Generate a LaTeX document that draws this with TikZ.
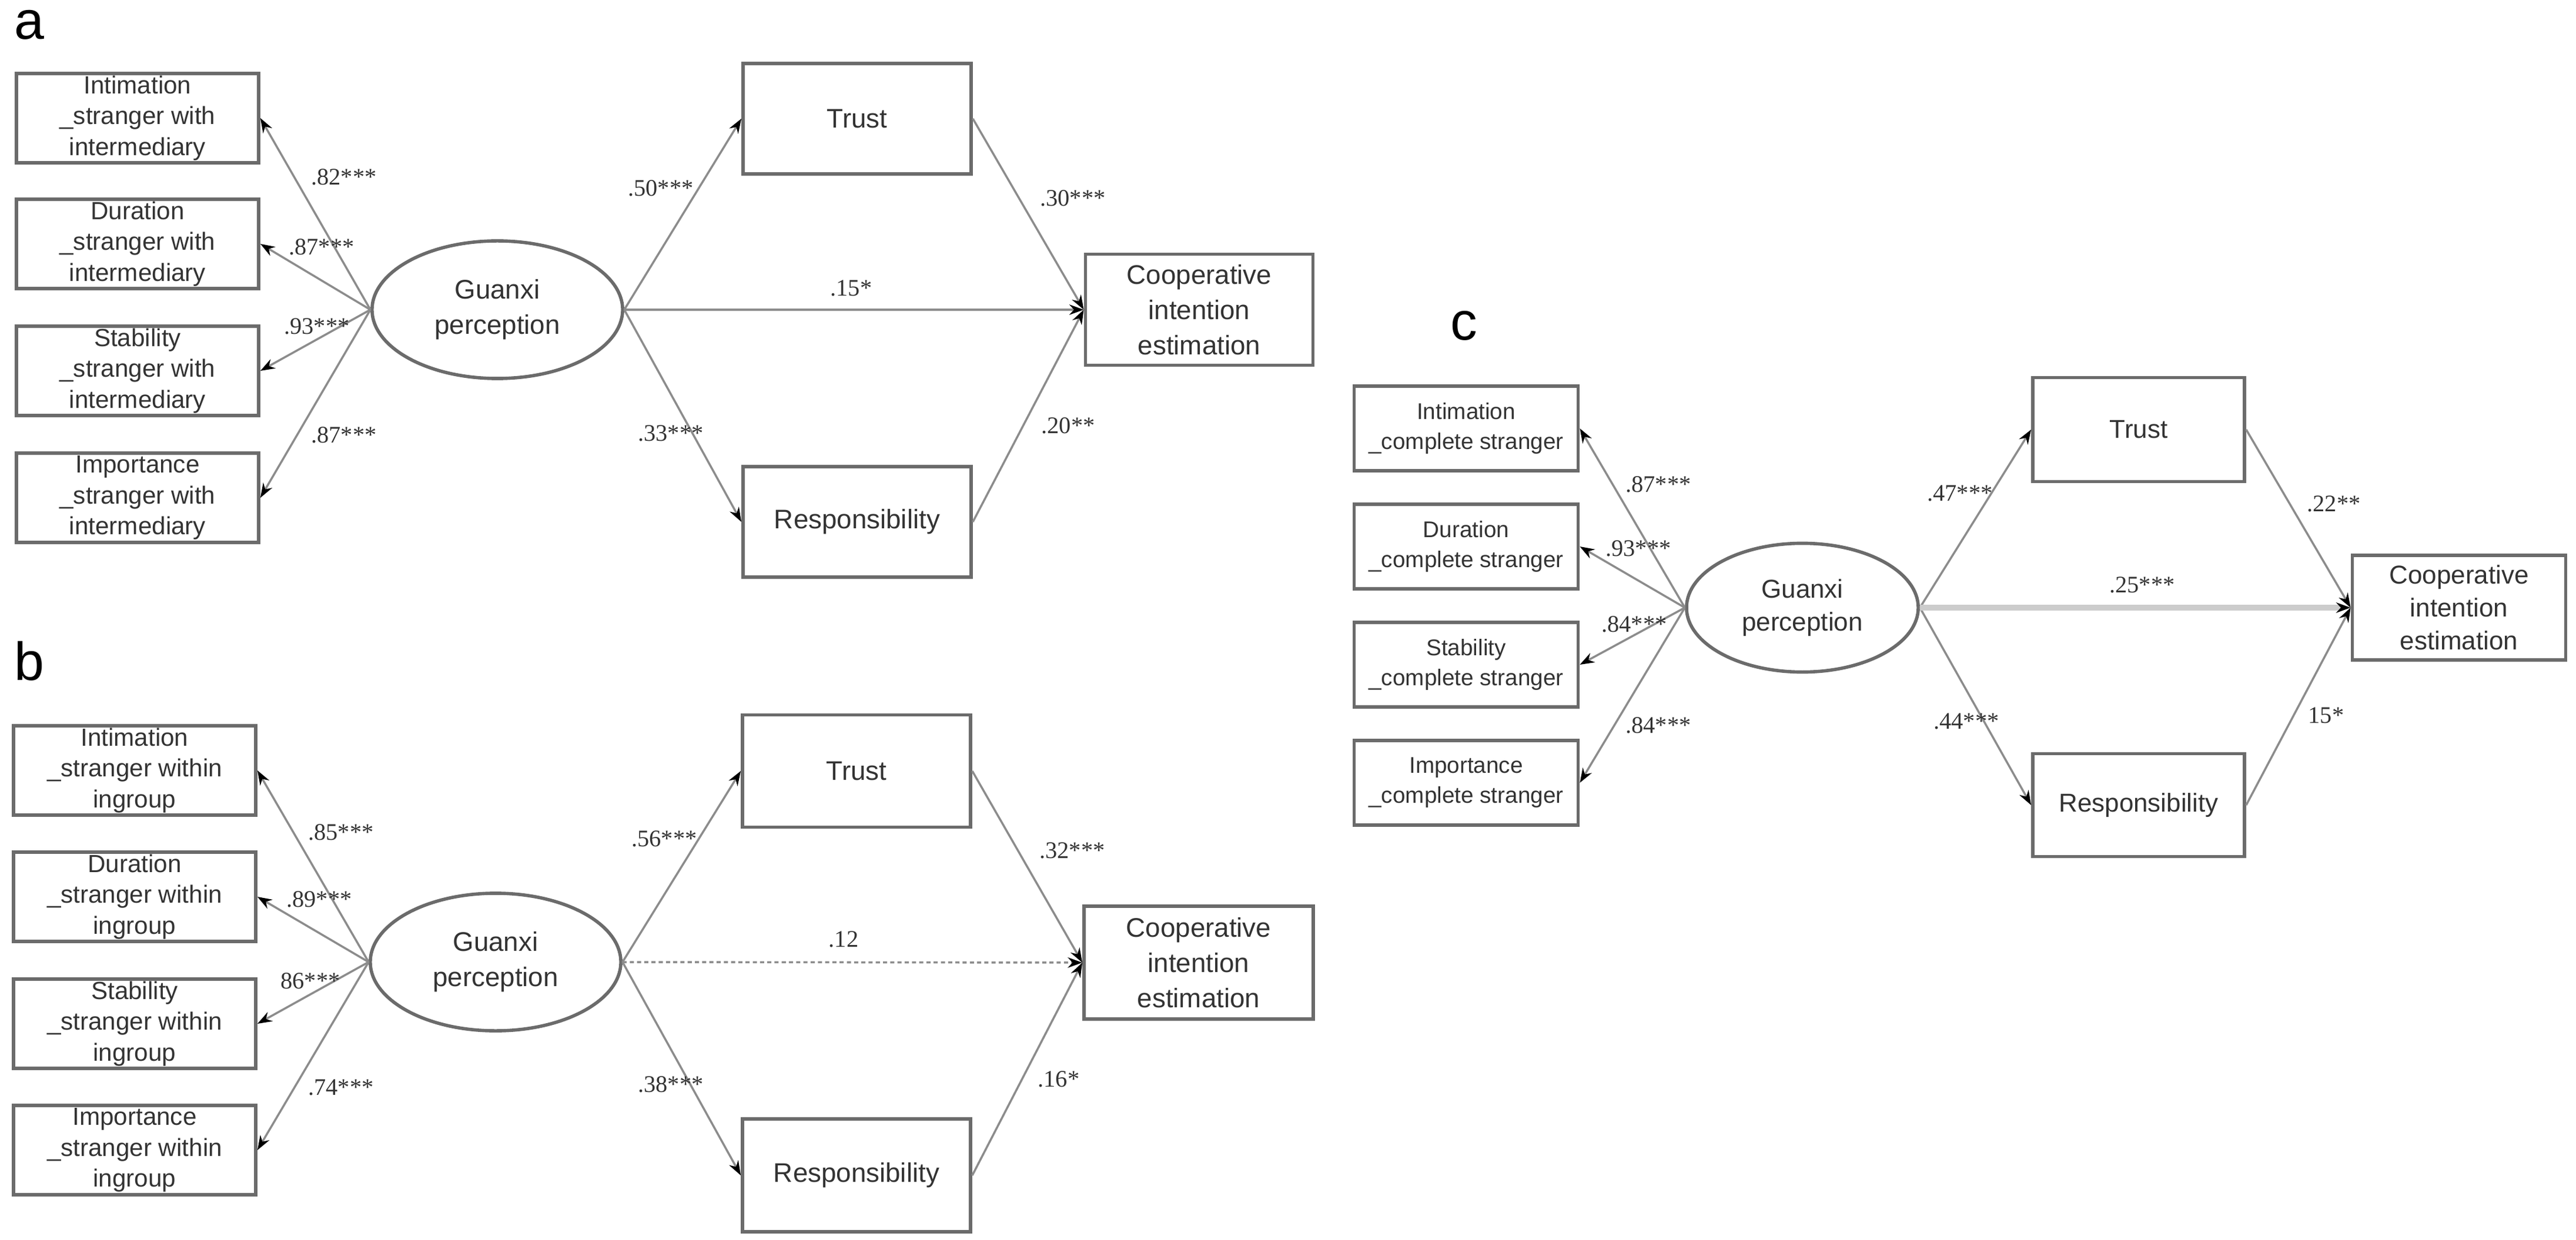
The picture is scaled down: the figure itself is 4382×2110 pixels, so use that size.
\documentclass[tikz,border=0pt]{standalone}
\usepackage{fontspec}
\setmainfont{Liberation Sans}
\newfontfamily\coef{Liberation Serif}
\usetikzlibrary{arrows.meta,shapes.geometric}
\definecolor{bx}{gray}{0.42}
\definecolor{ln}{gray}{0.55}
\definecolor{tx}{gray}{0.2}
\begin{document}
\begin{tikzpicture}[x=0.01cm,y=-0.01cm,
  ind/.style={draw=bx,line width=1.6pt,minimum width=4.12cm,minimum height=1.52cm,inner sep=0,align=center,font=\fontsize{12}{15}\selectfont,text=tx},
  indc/.style={ind,minimum width=3.81cm,minimum height=1.44cm,font=\fontsize{11}{14.5}\selectfont},
  big/.style={draw=bx,line width=1.6pt,minimum width=3.88cm,minimum height=1.88cm,inner sep=0,align=center,font=\fontsize{13}{17}\selectfont,text=tx},
  bigc/.style={big,minimum width=3.6cm,minimum height=1.77cm,font=\fontsize{12.5}{16}\selectfont},
  lat/.style={ellipse,draw=bx,line width=1.6pt,minimum width=4.26cm,minimum height=2.34cm,inner sep=0,align=center,font=\fontsize{13}{17}\selectfont,text=tx},
  path/.style={draw=ln,line width=1pt,-{Stealth[length=7pt,width=5pt]},black},
  pl/.style={draw=ln,line width=1pt},
  arr/.style={pl,-{Stealth[length=7pt,width=5pt,color=black]}},
  cf/.style={font=\coef\fontsize{11.5}{13}\selectfont,text=tx},
  lab/.style={font=\fontsize{26}{28}\selectfont,text=black}]
\useasboundingbox (0,0) rectangle (4382,2110);
% ---------- panel a
\node[lab] (la) at (50,42) {a};
\node[ind] (a1) at (234,201) {Intimation\\\_stranger with\\intermediary};
\node[ind] (a2) at (234,415) {Duration\\\_stranger with\\intermediary};
\node[ind] (a3) at (234,631) {Stability\\\_stranger with\\intermediary};
\node[ind] (a4) at (234,847) {Importance\\\_stranger with\\intermediary};
\node[lat] (aG) at (846,527) {Guanxi\\perception};
\node[big] (aT) at (1458,202) {Trust};
\node[big] (aR) at (1458,888) {Responsibility};
\node[big,minimum width=3.87cm,minimum height=1.89cm] (aC) at (2040,527) {Cooperative\\intention\\estimation};
\foreach \i in {1,...,4} \draw[arr] (aG.west) -- (a\i.east);
\draw[arr] (aG.east) -- (aT.west);
\draw[arr] (aG.east) -- (aR.west);
\draw[arr] (aG.east) -- (aC.west);
\draw[arr] (aT.east) -- (aC.west);
\draw[arr] (aR.east) -- (aC.west);
\node[cf] (a11) at (585,301) {.82***};
\node[cf] (a12) at (547,420) {.87***};
\node[cf] (a13) at (539,555) {.93***};
\node[cf] (a14) at (585,740) {.87***};
\node[cf] (a15) at (1124,320) {.50***};
\node[cf] (a16) at (1825,337) {.30***};
\node[cf] (a17) at (1448,490) {.15*};
\node[cf] (a18) at (1141,737) {.33***};
\node[cf] (a19) at (1817,724) {.20**};
% ---------- panel b
\node[lab] (lb) at (50,1125) {b};
\node[ind] (b1) at (229,1311) {Intimation\\\_stranger within\\ingroup};
\node[ind] (b2) at (229,1526) {Duration\\\_stranger within\\ingroup};
\node[ind] (b3) at (229,1742) {Stability\\\_stranger within\\ingroup};
\node[ind] (b4) at (229,1957) {Importance\\\_stranger within\\ingroup};
\node[lat] (bG) at (843,1637) {Guanxi\\perception};
\node[big,minimum height=1.91cm] (bT) at (1457,1312) {Trust};
\node[big,minimum height=1.92cm] (bR) at (1457,2000) {Responsibility};
\node[big,minimum width=3.9cm,minimum height=1.92cm] (bC) at (2039,1638) {Cooperative\\intention\\estimation};
\foreach \i in {1,...,4} \draw[arr] (bG.west) -- (b\i.east);
\draw[arr] (bG.east) -- (bT.west);
\draw[arr] (bG.east) -- (bR.west);
\draw[arr,dash pattern=on 2pt off 1.5pt] (bG.east) -- (bC.west);
\draw[arr] (bT.east) -- (bC.west);
\draw[arr] (bR.east) -- (bC.west);
\node[cf] (b11) at (580,1416) {.85***};
\node[cf] (b12) at (543,1530) {.89***};
\node[cf] (b13) at (528,1669) {86***};
\node[cf] (b14) at (580,1850) {.74***};
\node[cf] (b15) at (1130,1427) {.56***};
\node[cf] (b16) at (1824,1447) {.32***};
\node[cf] (b17) at (1435,1598) {.12};
\node[cf] (b18) at (1141,1845) {.38***};
\node[cf] (b19) at (1801,1836) {.16*};
% ---------- panel c
\node[lab] (lc) at (2490,554) {c};
\node[indc] (c1) at (2494,729) {Intimation\\\_complete stranger};
\node[indc] (c2) at (2494,930) {Duration\\\_complete stranger};
\node[indc] (c3) at (2494,1131) {Stability\\\_complete stranger};
\node[indc] (c4) at (2494,1332) {Importance\\\_complete stranger};
\node[lat,minimum width=3.94cm,minimum height=2.19cm,font=\fontsize{12.5}{16}\selectfont] (cG) at (3066,1034) {Guanxi\\perception};
\node[bigc] (cT) at (3638,731) {Trust};
\node[bigc,minimum height=1.75cm] (cR) at (3638,1370) {Responsibility};
\node[bigc,minimum width=3.63cm,minimum height=1.78cm] (cC) at (4183,1034) {Cooperative\\intention\\estimation};
\foreach \i in {1,...,4} \draw[arr] (cG.west) -- (c\i.east);
\draw[arr] (cG.east) -- (cT.west);
\draw[arr] (cG.east) -- (cR.west);
\draw[arr,draw=black!20,line width=3pt] (cG.east) -- (cC.west);
\draw[arr] (cT.east) -- (cC.west);
\draw[arr] (cR.east) -- (cC.west);
\node[cf] (c11) at (2821,824) {.87***};
\node[cf] (c12) at (2787,933) {.93***};
\node[cf] (c13) at (2780,1062) {.84***};
\node[cf] (c14) at (2821,1234) {.84***};
\node[cf] (c15) at (3334,839) {.47***};
\node[cf] (c16) at (3970,857) {.22**};
\node[cf] (c17) at (3644,995) {.25***};
\node[cf] (c18) at (3345,1227) {.44***};
\node[cf] (c19) at (3957,1217) {15*};
\end{tikzpicture}
\end{document}
